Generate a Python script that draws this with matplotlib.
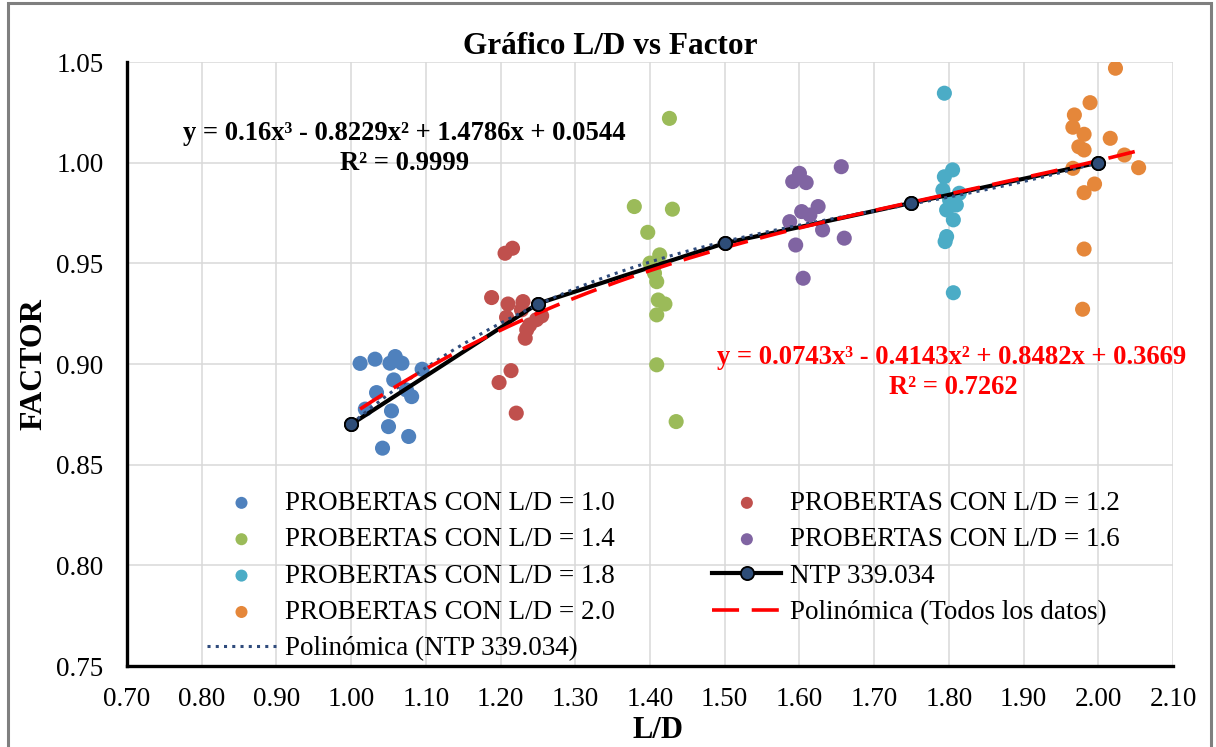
import numpy as np
import matplotlib
matplotlib.use("Agg")
import matplotlib.pyplot as plt
from matplotlib.patches import Rectangle

plt.rcParams['font.family'] = ['Liberation Serif', 'DejaVu Serif']

## datos (L/D, factor)
ld_10 = [1.012, 1.032, 1.059, 1.052, 1.068, 1.095, 1.057, 1.034, 1.074, 1.081, 1.019, 1.054, 1.050, 1.077, 1.042]
f_10 = [0.9003, 0.9024, 0.9037, 0.9004, 0.9004, 0.8974, 0.8921, 0.8858, 0.8871, 0.8838, 0.8776, 0.8767, 0.8689, 0.8640, 0.8582]

ld_12 = [1.206, 1.216, 1.188, 1.210, 1.230, 1.208, 1.255, 1.239, 1.235, 1.233, 1.248, 1.228, 1.214, 1.198, 1.221]
f_12 = [0.9550, 0.9575, 0.9330, 0.9298, 0.9310, 0.9232, 0.9239, 0.9194, 0.9170, 0.9128, 0.9220, 0.9269, 0.8967, 0.8908, 0.8756]

ld_14 = [1.426, 1.379, 1.430, 1.397, 1.413, 1.400, 1.406, 1.409, 1.411, 1.420, 1.409, 1.409, 1.435]
f_14 = [1.0220, 0.9782, 0.9769, 0.9654, 0.9542, 0.9501, 0.9451, 0.9409, 0.9318, 0.9298, 0.9244, 0.8996, 0.8714]

ld_16 = [1.656, 1.600, 1.591, 1.609, 1.603, 1.625, 1.614, 1.587, 1.631, 1.660, 1.595, 1.605]
f_16 = [0.9980, 0.9947, 0.9906, 0.9901, 0.9757, 0.9782, 0.9740, 0.9707, 0.9666, 0.9625, 0.9591, 0.9426]

ld_18 = [1.794, 1.805, 1.794, 1.792, 1.814, 1.801, 1.810, 1.797, 1.806, 1.795, 1.797, 1.806]
f_18 = [1.0345, 0.9964, 0.9930, 0.9864, 0.9848, 0.9815, 0.9790, 0.9765, 0.9716, 0.9608, 0.9633, 0.9354]

ld_20 = [2.023, 1.989, 1.968, 1.966, 1.981, 2.016, 1.974, 1.981, 2.035, 2.054, 1.966, 1.995, 1.981, 1.981, 1.979]
f_20 = [1.0469, 1.0298, 1.0237, 1.0176, 1.0141, 1.0121, 1.0079, 1.0063, 1.0038, 0.9975, 0.9972, 0.9894, 0.9851, 0.9571, 0.9272]

ntp_ld = [1.00, 1.25, 1.50, 1.75, 2.00]
ntp_f = [0.87, 0.93, 0.96, 0.98, 1.00]

grupos = [
    ("PROBERTAS CON L/D = 1.0", ld_10, f_10, "#4F81BD"),
    ("PROBERTAS CON L/D = 1.2", ld_12, f_12, "#C0504D"),
    ("PROBERTAS CON L/D = 1.4", ld_14, f_14, "#9BBB59"),
    ("PROBERTAS CON L/D = 1.6", ld_16, f_16, "#8064A2"),
    ("PROBERTAS CON L/D = 1.8", ld_18, f_18, "#4BACC6"),
    ("PROBERTAS CON L/D = 2.0", ld_20, f_20, "#E5873A"),
]

eq_ntp = ["y = 0.16x³ - 0.8229x² + 1.4786x + 0.0544", "R² = 0.9999"]
eq_todos = ["y = 0.0743x³ - 0.4143x² + 0.8482x + 0.3669", "R² = 0.7262"]

W, H = 1216, 747
fig = plt.figure(figsize=(W / 100, H / 100), dpi=100)
ax = fig.add_axes([127 / W, 1 - 666 / H, (1173 - 127) / W, (666 - 62) / H])

handles = {}
for nombre, xs, ys, col in grupos:
    handles[nombre] = ax.scatter(xs, ys, s=118, color=col, edgecolors='none', zorder=2, label=nombre)

# serie NTP
ln_ntp, = ax.plot(ntp_ld, ntp_f, color='black', lw=3.0, marker='o', ms=9.5,
                  mfc='#2E4D78', mec='black', mew=1.3, zorder=3, label="NTP 339.034")

# lineas de tendencia (polinomica grado 3)
c_ntp = np.polyfit(ntp_ld, ntp_f, 3)
xx = np.linspace(min(ntp_ld), max(ntp_ld), 200)
ln_pn, = ax.plot(xx, np.polyval(c_ntp, xx), color='#2F4B7C', lw=2.2, ls=(0, (1, 1.7)),
                 zorder=4, label="Polinómica (NTP 339.034)")

todos_x = np.concatenate([g[1] for g in grupos])
todos_y = np.concatenate([g[2] for g in grupos])
c_all = np.polyfit(todos_x, todos_y, 3)
xx2 = np.linspace(todos_x.min(), todos_x.max(), 200)
ln_pt, = ax.plot(xx2, np.polyval(c_all, xx2), color='#FF0000', lw=2.6, ls=(0, (7.5, 3.5)),
                 zorder=4, label="Polinómica (Todos los datos)")

ax.plot(ntp_ld, ntp_f, ls='none', marker='o', ms=9.5, mfc='#2E4D78', mec='black', mew=1.3, zorder=5)

ax.set_xlim(0.70, 2.10)
ax.set_ylim(0.75, 1.05)
ax.set_xticks(np.arange(0.70, 2.101, 0.10))
ax.set_yticks(np.arange(0.75, 1.051, 0.05))
ax.xaxis.set_major_formatter(plt.FormatStrFormatter('%.2f'))
ax.yaxis.set_major_formatter(plt.FormatStrFormatter('%.2f'))
ax.tick_params(axis='both', length=0, labelsize=19.5)
ax.tick_params(axis='y', pad=17)
ax.tick_params(axis='x', pad=15)
ax.grid(True, color='#D9D9D9', lw=1.1, zorder=0)
ax.set_axisbelow(True)
for s in ['top', 'right']:
    ax.spines[s].set_visible(False)
for s in ['left', 'bottom']:
    ax.spines[s].set_linewidth(2.4)
    ax.spines[s].set_zorder(6)

# leyenda, orden por columnas
orden = [handles["PROBERTAS CON L/D = 1.0"], handles["PROBERTAS CON L/D = 1.4"],
         handles["PROBERTAS CON L/D = 1.8"], handles["PROBERTAS CON L/D = 2.0"], ln_pn,
         handles["PROBERTAS CON L/D = 1.2"], handles["PROBERTAS CON L/D = 1.6"], ln_ntp, ln_pt]
leg = fig.legend(orden, [h.get_label() for h in orden], ncol=2, frameon=False,
                 loc='upper left', bbox_to_anchor=(188 / W, 1 - 472 / H),
                 fontsize=19.5, handlelength=2.55, handletextpad=0.33,
                 columnspacing=3.6, labelspacing=0.42, borderpad=0.2)
for h in leg.legend_handles:
    if hasattr(h, 'set_sizes'):
        h.set_sizes([75])

# textos
fig.text(610 / W, 1 - 47 / H, "Gráfico L/D vs Factor", ha='center', va='center',
         fontsize=22.5, fontweight='bold')
fig.text(34 / W, 1 - 364 / H, "FACTOR", ha='center', va='center', rotation=90,
         fontsize=23, fontweight='bold')
fig.text(658 / W, 1 - 731 / H, "L/D", ha='center', va='center',
         fontsize=22, fontweight='bold')
fig.text(404 / W, 1 - 133 / H, eq_ntp[0], ha='center', va='center', fontsize=19.2, fontweight='bold')
fig.text(405 / W, 1 - 163 / H, eq_ntp[1], ha='center', va='center', fontsize=19.2, fontweight='bold')
fig.text(952 / W, 1 - 358 / H, eq_todos[0], ha='center', va='center', fontsize=19.2,
         fontweight='bold', color='#FF0000')
fig.text(953 / W, 1 - 387 / H, eq_todos[1], ha='center', va='center', fontsize=19.2,
         fontweight='bold', color='#FF0000')

# borde del area del grafico
fig.patches.append(Rectangle((8 / W, -0.02), (1211 - 8) / W, 1.02 - 3 / H, transform=fig.transFigure,
                             fill=False, edgecolor='#7F7F7F', lw=2.2))

fig.savefig("out.png", dpi=100)
